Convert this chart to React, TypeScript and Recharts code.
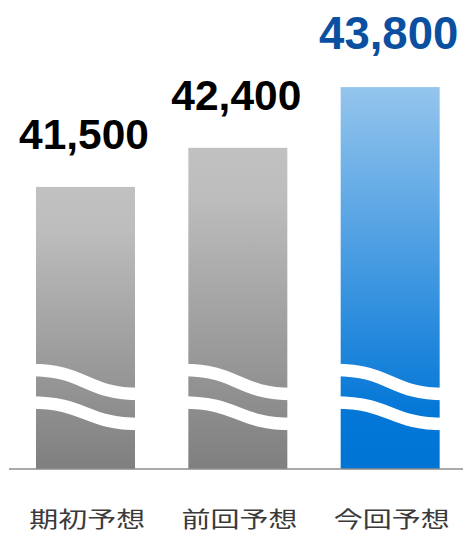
import { Bar, BarChart, Cell, LabelList, XAxis, YAxis } from "recharts";

const categories = ["期初予想", "前回予想", "今回予想"];
const forecastValues = [41500, 42400, 43800];
const highlightIndex = 2;

const data = categories.map((name, i) => ({ name, value: forecastValues[i] }));

// white "≈" break marks across each bar, positioned from the bar bottom
const WaveBar = (props: any) => {
  const { x, y, width, height, fill } = props;
  const bottom = y + height;
  const xs = x - 5;
  const xe = x + width + 5;
  const mid = (xs + xe) / 2;
  const wave = (yl: number, yr: number) =>
    `M${xs},${yl} C${mid},${yl} ${mid},${yr} ${xe},${yr}`;
  return (
    <g>
      <rect x={x} y={y} width={width} height={height} fill={fill} />
      <path d={wave(bottom - 99, bottom - 75)} stroke="#fff" strokeWidth={12.5} fill="none" />
      <path d={wave(bottom - 66.5, bottom - 45)} stroke="#fff" strokeWidth={12.5} fill="none" />
    </g>
  );
};

const ValueLabel = (props: any) => {
  const { x, y, width, value, index } = props;
  const hot = index === highlightIndex;
  return (
    <text
      x={x + width / 2 - 1.5}
      y={y - 38}
      textAnchor="middle"
      fontFamily="'Liberation Sans', Arial, sans-serif"
      fontWeight={700}
      fontSize={hot ? 45.5 : 42.5}
      fill={hot ? "#0b4fa1" : "#000"}
    >
      {Number(value).toLocaleString("en-US")}
    </text>
  );
};

const CategoryTick = (props: any) => {
  const { x, payload } = props;
  return (
    <text
      x={x + 2}
      y={527}
      textAnchor="middle"
      fontFamily="'Noto Sans CJK JP', sans-serif"
      fontSize={21.5}
      fill="#3a3a3a"
      textLength={116}
      lengthAdjust="spacingAndGlyphs"
    >
      {payload.value}
    </text>
  );
};

export default function App() {
  return (
    <div style={{ position: "absolute", left: 0, top: 0, width: 463, height: 539, overflow: "hidden", background: "#fff" }}>
      <BarChart
        width={466}
        height={539}
        data={data}
        margin={{ top: 35, right: 0, left: 9, bottom: 0 }}
      >
        <defs>
          <linearGradient id="grayFill" x1="0" y1="0" x2="0" y2="1">
            <stop offset="0%" stopColor="#c1c1c1" />
            <stop offset="15%" stopColor="#bdbdbd" />
            <stop offset="100%" stopColor="#7f7f7f" />
          </linearGradient>
          <linearGradient id="blueFill" x1="0" y1="0" x2="0" y2="1">
            <stop offset="0%" stopColor="#94c5ed" />
            <stop offset="85%" stopColor="#0477d7" />
            <stop offset="100%" stopColor="#0075d5" />
          </linearGradient>
        </defs>
        <XAxis
          dataKey="name"
          height={70}
          tickLine={false}
          axisLine={{ stroke: "#8c8c8c", strokeWidth: 1.5 }}
          tick={CategoryTick}
          interval={0}
        />
        <YAxis hide domain={[35000, 45000]} allowDataOverflow />
        <Bar dataKey="value" barSize={99} shape={WaveBar} isAnimationActive={false}>
          {data.map((_, i) => (
            <Cell key={i} fill={i === highlightIndex ? "url(#blueFill)" : "url(#grayFill)"} />
          ))}
          <LabelList dataKey="value" content={ValueLabel} />
        </Bar>
      </BarChart>
    </div>
  );
}
